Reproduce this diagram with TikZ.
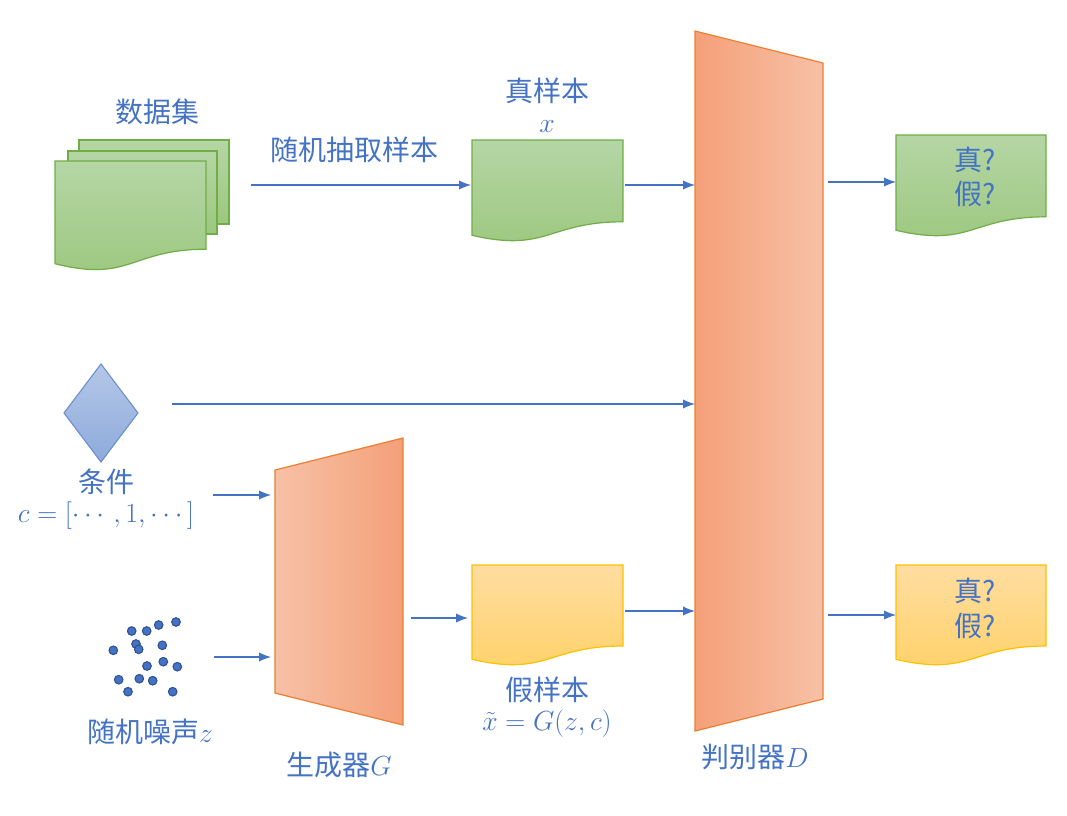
\documentclass[tikz,border=0pt]{standalone}
\usepackage{amsmath}
\usepackage{fontspec}
\newfontfamily\cjk{Noto Sans CJK SC}
\usepackage{tikz}
\usetikzlibrary{arrows.meta}

\definecolor{txtblue}{HTML}{4472C4}
\definecolor{greenline}{HTML}{70AD47}
\definecolor{greentop}{HTML}{B5D6A5}
\definecolor{greenbot}{HTML}{9CC77E}
\definecolor{yellowline}{HTML}{FFC000}
\definecolor{yellowtop}{HTML}{FFDDA0}
\definecolor{yellowbot}{HTML}{FFD166}
\definecolor{orangeline}{HTML}{ED7D31}
\definecolor{orangedark}{HTML}{F4A078}
\definecolor{orangelight}{HTML}{F7C1A7}
\definecolor{bluetop}{HTML}{B4C7E7}
\definecolor{bluebot}{HTML}{8EAADB}
\definecolor{dotline}{HTML}{2F528F}

\tikzset{
  lbl/.style={text=txtblue, font=\cjk\fontsize{21}{25}\selectfont, inner sep=0pt},
  flow/.style={draw=txtblue, line width=0.9pt, -{Latex[length=9pt,width=7pt]}},
  greendoc/.style={draw=greenline, line width=0.9pt, top color=greentop, bottom color=greenbot},
  yellowdoc/.style={draw=yellowline, line width=0.9pt, top color=yellowtop, bottom color=yellowbot},
  noisedot/.style={fill=txtblue, draw=dotline, line width=0.8pt}
}

% document shape: left, top, width, height
\newcommand{\docpath}[4]{(#1,#2) -- ({#1+#3},#2) -- ({#1+#3},{#2+0.802*#4})
  .. controls ({#1+0.5*#3},{#2+0.802*#4}) and ({#1+0.5*#3},{#2+1.107*#4}) .. (#1,{#2+0.934*#4}) -- cycle}

\begin{document}
\begin{tikzpicture}[x=0.75pt, y=-0.75pt]
		\useasboundingbox (0,0) rectangle (1067,815);
		% data set (stack of pages)
		\draw[greendoc] (79,140) rectangle (229,224);
		\draw[greendoc] (68,151) rectangle (217,234);
		\draw[greendoc] \docpath{55}{161}{151}{110};
		\node[lbl] (dataset) at (157,112) {数据集};
		% real sample
		\draw[greendoc] \docpath{472}{140}{151}{102};
		\node[lbl] (reallbl) at (547,91) {真样本};
		\node[lbl] (realx) at (547,127) {$x$};
		% fake sample
		\draw[yellowdoc] \docpath{472}{565}{151}{101};
		\node[lbl] (fakelbl) at (547,690) {假样本};
		\node[lbl] (fakex) at (547,724) {$\tilde{x}=G(z,c)$};
		% discriminator
		\draw[orangeline, line width=0.9pt, left color=orangedark, right color=orangelight]
			(695,31) -- (823,63) -- (823,699) -- (695,731) -- cycle;
		\node[lbl] (dlbl) at (755,757) {判别器$D$};
		% generator
		\draw[orangeline, line width=0.9pt, left color=orangelight, right color=orangedark]
			(275,470) -- (403,438) -- (403,725) -- (275,693) -- cycle;
		\node[lbl] (glbl) at (339,765) {生成器$G$};
		% outputs
		\draw[greendoc] \docpath{896}{135}{150}{102};
		\node[lbl] (out1a) at (975,160) {真?};
		\node[lbl] (out1b) at (975,194) {假?};
		\draw[yellowdoc] \docpath{896}{565}{150}{101};
		\node[lbl] (out2a) at (975,591) {真?};
		\node[lbl] (out2b) at (975,626) {假?};
		% condition
		\draw[draw=txtblue!80, line width=0.8pt, top color=bluetop, bottom color=bluebot]
			(101,364) -- (138,413) -- (101,462) -- (64,413) -- cycle;
		\node[lbl] (condlbl) at (106,482) {条件};
		\node[lbl] (condc) at (106,516) {$c=[\cdots,1,\cdots]$};
		% noise
		\foreach \px/\py in {131.7/631, 146.7/631, 158.7/625, 176/622, 113.3/650.3, 136/644,
			138.7/649.3, 162.3/645.3, 147/666, 163.3/661.7, 177.3/666.7, 118.7/679.7,
			139.3/678.7, 152.7/680.7, 128/691.7, 172.7/691.7}
			\draw[noisedot] (\px,\py) circle (4.3);
		\node[lbl] (noiselbl) at (150,732) {随机噪声$z$};
		% arrow ends
		\coordinate (sampleA) at (251,185);
		\coordinate (sampleB) at (471,185);
		\coordinate (realA) at (625,185);
		\coordinate (realB) at (695,185);
		\coordinate (condA) at (172,404);
		\coordinate (condB) at (695,404);
		\coordinate (condgA) at (213,495);
		\coordinate (condgB) at (271,495);
		\coordinate (noiseA) at (214,657);
		\coordinate (noiseB) at (271,657);
		\coordinate (genA) at (411,618);
		\coordinate (genB) at (468,618);
		\coordinate (fakeA) at (625,611);
		\coordinate (fakeB) at (695,611);
		\coordinate (out1A) at (828,182);
		\coordinate (out1B) at (896,182);
		\coordinate (out2A) at (828,615);
		\coordinate (out2B) at (896,615);
		% arrows
		\draw[flow] (sampleA) -- node[lbl, above=16pt, xshift=-5pt] (samplelbl) {随机抽取样本} (sampleB);
		\draw[flow] (realA) -- (realB);
		\draw[flow] (condA) -- (condB);
		\draw[flow] (condgA) -- (condgB);
		\draw[flow] (noiseA) -- (noiseB);
		\draw[flow] (genA) -- (genB);
		\draw[flow] (fakeA) -- (fakeB);
		\draw[flow] (out1A) -- (out1B);
		\draw[flow] (out2A) -- (out2B);
	\end{tikzpicture}
\end{document}
